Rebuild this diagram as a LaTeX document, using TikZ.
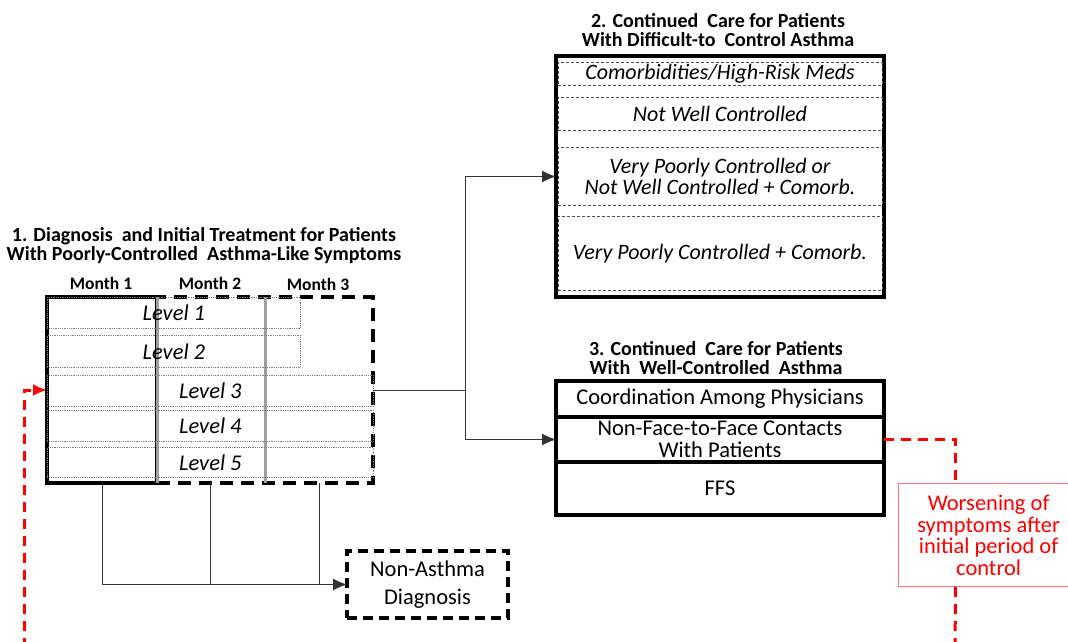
\documentclass[tikz,border=0pt]{standalone}
\usepackage{fontspec}
\setmainfont{Carlito}
\usetikzlibrary{positioning, arrows.meta}

\begin{document}
\begin{tikzpicture}[x=1pt, y=-1pt, >={Latex[length=14pt, width=12pt]},
        boxthick/.style={draw, line width=3.2pt, outer sep=0pt, inner sep=0pt},
        levelrow/.style={draw=gray, densely dotted, line width=0.8pt, inner sep=0pt, anchor=north west,
            font=\fontsize{22.5}{21}\selectfont\itshape},
        careRow/.style={draw=black!70, densely dashed, line width=0.7pt, inner sep=0pt, minimum width=324pt,
            anchor=north, align=center, font=\fontsize{22}{21.5}\selectfont\itshape},
        testo/.style={font=\fontsize{22.5}{21.5}\selectfont, align=center},
        titolo/.style={font=\fontsize{20}{19}\selectfont\bfseries, align=center},
        mese/.style={font=\fontsize{17.5}{17}\selectfont\bfseries},
        linkline/.style={line width=1pt, black!80},
        redline/.style={red, line width=3pt, dash pattern=on 10pt off 7pt}]

        \useasboundingbox (0,0) rectangle (1068,642);

        % Blocco 1: diagnosi e trattamento iniziale
        \node[titolo] (titolo1) at (204,246) {1. Diagnosis\ \ and Initial Treatment for Patients\\With Poorly-Controlled\ \ Asthma-Like Symptoms};
        \node[mese] (mese1lab) at (101,283) {Month 1};
        \node[mese] (mese2lab) at (210,283) {Month 2};
        \node[mese] (mese3lab) at (318,284) {Month 3};

        % Colonne dei mesi (mese 1 continuo, mesi 2 e 3 tratteggiati)
        \node[boxthick, dashed, dash pattern=on 13pt off 8pt, minimum width=216pt, minimum height=186pt, anchor=north west] (mese23) at (157,297) {};
        \node[boxthick, minimum width=110pt, minimum height=186pt, anchor=north west] (mese1) at (47,297) {};
        \draw[line width=3pt, gray!75] (mese1.north east) -- (mese1.south east);
        \draw[line width=3pt, gray!75] ([xshift=108pt]mese23.north west) -- ([xshift=108pt]mese23.south west);

        % Livelli
        \node[levelrow, minimum width=253pt, minimum height=31pt] (liv1) at (47,297) {Level 1};
        \node[levelrow, minimum width=253pt, minimum height=32pt] (liv2) at (47,335) {Level 2};
        \node[levelrow, minimum width=326pt, minimum height=31pt] (liv3) at (47,375) {Level 3};
        \node[levelrow, minimum width=326pt, minimum height=31pt] (liv4) at (47,410) {Level 4};
        \node[levelrow, minimum width=326pt, minimum height=30pt] (liv5) at (47,447) {Level 5};

        % Blocco 2: asma di difficile controllo
        \node[titolo] (titolo2) at (718,30) {2. Continued\ \ Care for Patients\\With Difficult-to\ \ Control Asthma};
        \node[boxthick, minimum width=328pt, minimum height=241pt, anchor=north west] (cura2) at (556,56) {};
        \node[careRow, minimum height=23pt] (comorb) at (720,62) {Comorbidities/High-Risk Meds};
        \node[careRow, minimum height=33pt] (nonbene) at (720,97) {Not Well Controlled};
        \node[careRow, minimum height=58pt] (scarso) at (720,147) {Very Poorly Controlled or\\Not Well Controlled + Comorb.};
        \node[careRow, minimum height=74pt] (scarsocom) at (720,216) {Very Poorly Controlled + Comorb.};

        % Blocco 3: asma ben controllata
        \node[titolo] (titolo3) at (716,358) {3. Continued\ \ Care for Patients\\With\ \ Well-Controlled\ \ Asthma};
        \node[boxthick, testo, minimum width=328pt, minimum height=36pt, anchor=north west] (coord) at (556,381) {Coordination Among Physicians};
        \node[boxthick, testo, minimum width=328pt, minimum height=45pt, below=0pt of coord] (contatti) {Non-Face-to-Face Contacts\\With Patients};
        \node[boxthick, testo, minimum width=328pt, minimum height=53pt, below=0pt of contatti] (ffs) {FFS};

        % Diagnosi non asmatica
        \node[boxthick, testo, font=\fontsize{22.5}{28}\selectfont, dashed, dash pattern=on 10pt off 6pt, minimum width=161pt, minimum height=67pt, anchor=north west] (nonasma) at (347,551) {Non-Asthma\\Diagnosis};

        % Peggioramento dei sintomi
        \node[draw=red!55, line width=1.2pt, testo, text=red, minimum width=180pt, minimum height=103pt, anchor=north west] (peggior) at (898,483) {Worsening of\\symptoms after\\initial period of\\control};

        % Collegamenti
        \coordinate (snodo) at (465,390);
        \draw[linkline] (mese23.east) -- (snodo);
        \draw[linkline, ->] (snodo) |- (cura2.west);
        \draw[linkline, ->] (snodo) |- (contatti.west);

        \draw[linkline, ->] (mese1.south) |- (nonasma.west);
        \draw[linkline] ([xshift=53pt]mese23.south west) -- ([xshift=53pt]mese23.south west |- nonasma.west);
        \draw[linkline] ([xshift=162pt]mese23.south west) -- ([xshift=162pt]mese23.south west |- nonasma.west);

        % Ritorno in caso di peggioramento
        \coordinate (fondo1) at (24,648);
        \coordinate (fondo2) at (955,648);
        \draw[redline] (contatti.east) -| ([xshift=-33pt]peggior.north);
        \draw[redline] ([xshift=-33pt]peggior.south) -- (fondo2);
        \draw[redline, ->] (fondo1) |- (mese1.west);
    \end{tikzpicture}
\end{document}
